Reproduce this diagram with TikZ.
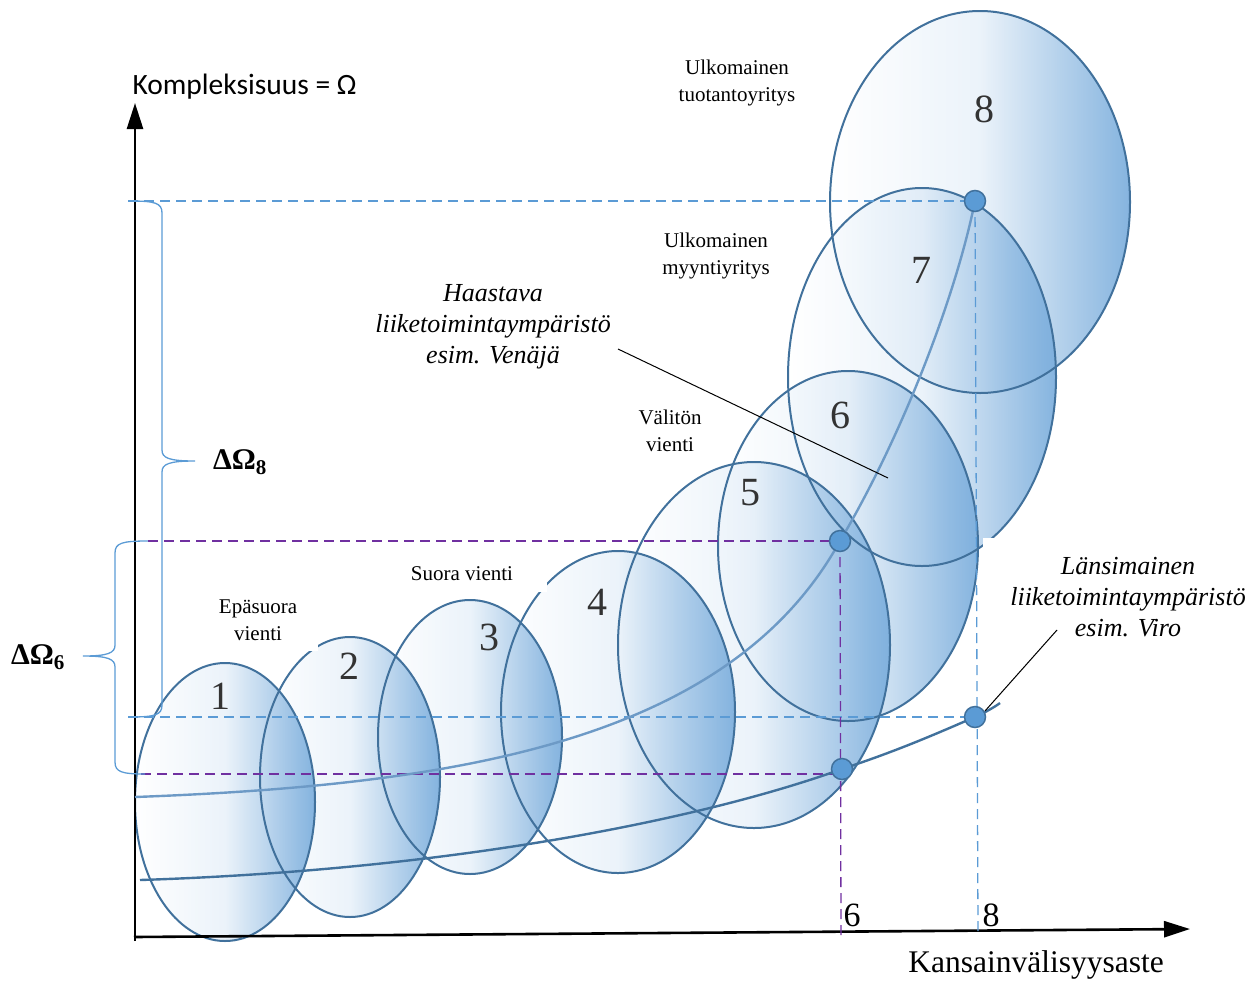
\documentclass[tikz,border=0pt]{standalone}
\usepackage{fontspec}
\setmainfont{Liberation Serif}
\newfontfamily\calibrifont{Carlito}
\usepackage{tikz}
\usetikzlibrary{arrows.meta,fadings,positioning}

\definecolor{ovalline}{HTML}{41719C}
\definecolor{ovalfillc}{HTML}{7AADDC}
\definecolor{curvelight}{HTML}{6D9AC6}
\definecolor{guideblue}{HTML}{5B9BD5}
\definecolor{guidepurple}{HTML}{7030A0}
\tikzfading[name=ovalfade, left color=transparent!100, right color=transparent!8, middle color=transparent!85]

\begin{document}
\begin{tikzpicture}[x=1pt,y=-1pt,
	axis/.style={line width=2.6pt,-{Triangle[length=26pt,width=16pt]}},
	oval/.style={line width=2pt,draw=ovalline},
	ovalfill/.style={fill=ovalfillc,path fading=ovalfade},
	guide/.style={line width=1.3pt,dash pattern=on 10pt off 6pt},
	bracket/.style={line width=1.3pt,draw=guideblue},
	curve/.style={line width=2.4pt},
	dot/.style={circle,minimum size=21pt,inner sep=0pt,fill=guideblue,draw=ovalline,line width=1.5pt},
	lab/.style={font=\fontsize{21}{27}\selectfont,align=center},
	note/.style={font=\fontsize{26}{31}\selectfont\itshape,align=center},
	num/.style={font=\fontsize{40}{40}\selectfont,text=black!80},
	tick/.style={font=\fontsize{34}{34}\selectfont},
	delta/.style={font=\fontsize{30}{30}\selectfont\bfseries},
	pointer/.style={line width=1pt}]

\useasboundingbox (0,0) rectangle (1260,983);

% ovals 1..8
\foreach \cx/\cy/\rx/\ry in {225/802/90/139, 350/777/90/140, 470/737/92/137, 618/712/117/161,
		754/645/136/183, 848/546/130/175, 922/377/134/189, 980/202/150/191}
	\path[ovalfill] (\cx,\cy) ellipse [x radius=\rx,y radius=\ry];
\foreach \cx/\cy/\rx/\ry in {225/802/90/139, 350/777/90/140, 470/737/92/137, 618/712/117/161,
		754/645/136/183, 848/546/130/175, 922/377/134/189, 980/202/150/191}
	\draw[oval] (\cx,\cy) ellipse [x radius=\rx,y radius=\ry];

\foreach \n/\nx/\ny in {1/220/696, 2/349/666, 3/489/637, 4/597/602, 5/750/493, 6/840/415, 7/921/270, 8/984/109}
	\node[num] (n\n) at (\nx,\ny) {\n};

% stage labels
\node[lab,fill=white,minimum width=120pt,minimum height=62pt] (epasuora) at (258,620) {Epäsuora\\vienti};
\node[lab,fill=white,minimum width=170pt,minimum height=36pt] (suora) at (462,574) {Suora vienti};
\node[lab] (valiton) at (670,431) {Välitön\\vienti};
\node[lab] (myynti) at (716,256) {Ulkomainen\\myyntiyritys};
\node[lab] (tuotanto) at (737,83) {Ulkomainen\\tuotantoyritys};

\node[note] (haastava) at (493,327) {Haastava\\liiketoimintaympäristö\\esim. Venäjä};
\node[note,fill=white,minimum width=290pt,minimum height=118pt] (lansi) at (1128,597) {Länsimainen\\liiketoimintaympäristö\\esim. Viro};

% axes
\coordinate (o) at (135,941);
\coordinate (ytop) at (135,103);
\coordinate (xstart) at (134,937);
\coordinate (xend) at (1190,929);
\draw[axis] (o) -- (ytop);
\draw[axis] (xstart) -- (xend);
\node[font=\calibrifont\fontsize{29.5}{29.5}\selectfont,anchor=west] (ylab) at (129,87) {Kompleksisuus = Ω};
\node[font=\fontsize{31.5}{31.5}\selectfont] (xlab) at (1036,965) {Kansainvälisyysaste};
\node[tick] (x6) at (852,915) {6};
\node[tick] (x8) at (991,915) {8};

% points
\coordinate (p6hi) at (840,541);
\coordinate (p6lo) at (842,769);
\coordinate (p8hi) at (975,201);
\coordinate (p8lo) at (975,717);

% guide lines
\coordinate (g8hi) at (128,201);
\coordinate (g8lo) at (128,717);
\coordinate (g6hi) at (148,541);
\coordinate (g6lo) at (141,774);
\coordinate (t6) at (841,937);
\coordinate (t8) at (978,933);
\draw[guide,guideblue] (g8hi) -- (p8hi);
\draw[guide,guideblue] (g8lo) -- (p8lo);
\draw[guide,guideblue] (p8hi) -- (t8);
\draw[guide,guidepurple] (g6hi) -- (p6hi);
\draw[guide,guidepurple] (g6lo) -- (g6lo -| p6lo);
\draw[guide,guidepurple] (p6hi) -- (t6);

% braces
\draw[bracket] (130,201) .. controls (155,201) and (162,203) .. (162,213) -- (162,450)
	.. controls (162,458) and (169,461) .. (195,461) .. controls (169,461) and (162,464) .. (162,472)
	-- (162,705) .. controls (162,715) and (155,717) .. (130,717);
\draw[bracket] (148,541) .. controls (122,541) and (115,543) .. (115,553) -- (115,645)
	.. controls (115,653) and (108,656) .. (83,656) .. controls (108,656) and (115,659) .. (115,667)
	-- (115,762) .. controls (115,772) and (122,774) .. (145,774);
\node[delta] (d8) at (240,462) {ΔΩ\textsubscript{8}};
\node[delta] (d6) at (38,657) {ΔΩ\textsubscript{6}};

% curves
\coordinate (u0) at (135,797);
\coordinate (l0) at (140,880);
\coordinate (tail) at (1000,703);
\draw[curve,curvelight] (u0) .. controls (460,785) and (730,740) .. (p6hi)
	.. controls (900,440) and (955,300) .. (p8hi);
\draw[curve,ovalline] (l0) .. controls (450,870) and (700,820) .. (p6lo)
	.. controls (900,750) and (940,732) .. (p8lo) .. controls (988,711) and (996,706) .. (tail);

% pointers
\coordinate (h1) at (618,349);
\coordinate (h2) at (888,478);
\coordinate (v1) at (1057,630);
\coordinate (v2) at (985,711);
\draw[pointer] (h1) -- (h2);
\draw[pointer] (v1) -- (v2);

\foreach \p in {p6hi,p6lo,p8hi,p8lo}
	\node[dot] (d\p) at (\p) {};
\end{tikzpicture}
\end{document}
